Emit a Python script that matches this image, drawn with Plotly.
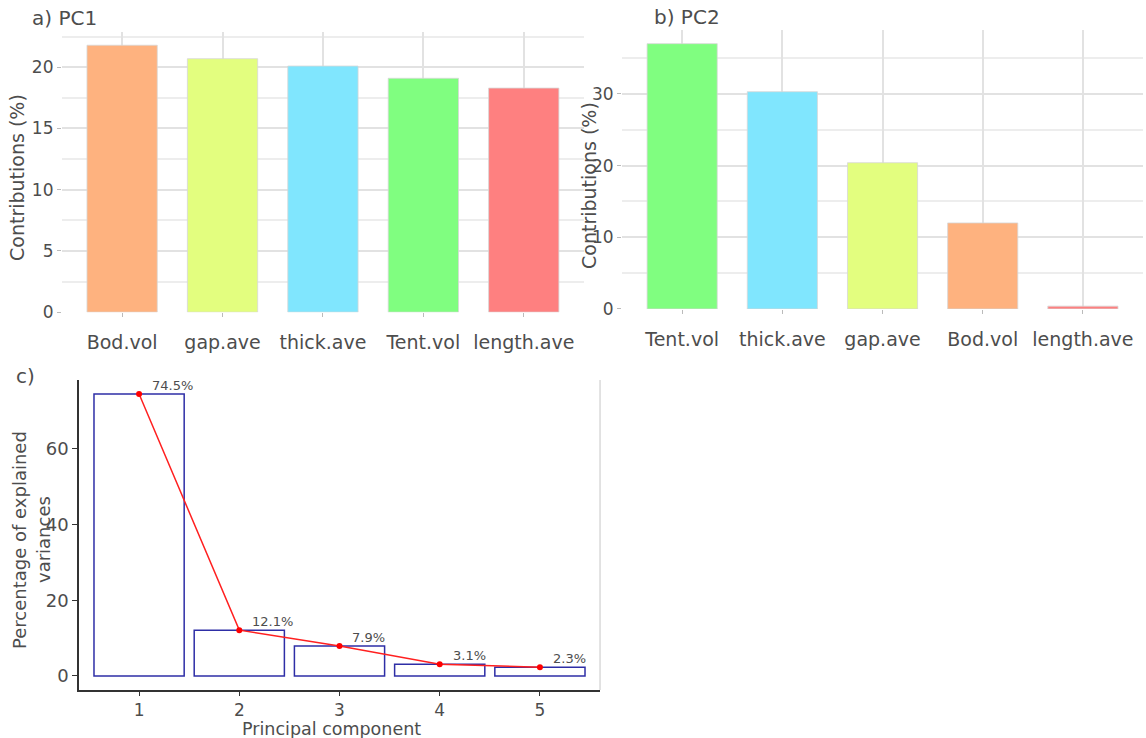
import plotly.graph_objects as go

# ---- data ----
pc1_vars = ["Bod.vol", "gap.ave", "thick.ave", "Tent.vol", "length.ave"]
pc1_vals = [21.8, 20.7, 20.1, 19.1, 18.3]

pc2_vars = ["Tent.vol", "thick.ave", "gap.ave", "Bod.vol", "length.ave"]
pc2_vals = [37.0, 30.3, 20.4, 12.0, 0.4]

var_colors = {
    "Bod.vol": "#FEB27F",
    "gap.ave": "#E3FE7F",
    "thick.ave": "#80E6FE",
    "Tent.vol": "#80FE80",
    "length.ave": "#FE8080",
}

pcs = [1, 2, 3, 4, 5]
explained = [74.5, 12.1, 7.9, 3.1, 2.3]
explained_labels = ["74.5%", "12.1%", "7.9%", "3.1%", "2.3%"]

W, H = 1146, 738
FONT = "DejaVu Sans"
TXT = "#4D4D4D"

fig = go.Figure()

# Panel a
fig.add_trace(go.Bar(
    x=pc1_vars, y=pc1_vals, width=0.7,
    marker=dict(color=[var_colors[v] for v in pc1_vars],
                line=dict(color="rgba(215,215,215,0.8)", width=1)),
    xaxis="x", yaxis="y", showlegend=False, hoverinfo="x+y"))

# Panel b
fig.add_trace(go.Bar(
    x=pc2_vars, y=pc2_vals, width=0.7,
    marker=dict(color=[var_colors[v] for v in pc2_vars],
                line=dict(color="rgba(215,215,215,0.8)", width=1)),
    xaxis="x2", yaxis="y2", showlegend=False, hoverinfo="x+y"))

# Panel c
fig.add_trace(go.Bar(
    x=pcs, y=explained, width=0.9,
    marker=dict(color="rgba(255,255,255,0)", line=dict(color="#2E2EA6", width=1.5)),
    xaxis="x3", yaxis="y3", showlegend=False, hoverinfo="x+y"))
fig.add_trace(go.Scatter(
    x=pcs, y=explained, mode="lines+markers",
    line=dict(color="#FF2020", width=1.5),
    marker=dict(color="#FF0000", size=6),
    xaxis="x3", yaxis="y3", showlegend=False, hoverinfo="x+y"))

grid_axis = dict(
    showgrid=True, gridcolor="#E2E2E2", gridwidth=1.5,
    ticks="outside", ticklen=4, tickcolor="#BBBBBB", tickwidth=1,
    zeroline=False, showline=False, automargin=False,
)
xfont = dict(family=FONT, size=19, color=TXT)
yfont = dict(family=FONT, size=17, color=TXT)

def ann(text, x, y, size, angle=0, xanchor="center"):
    return dict(text=text, x=x / W, y=1 - y / H, xref="paper", yref="paper",
                xanchor=xanchor, yanchor="middle", showarrow=False, textangle=angle,
                font=dict(family=FONT, size=size, color=TXT))

annotations = [
    ann("a) PC1", 30, 18, 20, xanchor="left"),
    ann("b) PC2", 652, 17, 20, xanchor="left"),
    ann("c)", 14, 376, 20, xanchor="left"),
    ann("Contributions (%)", 17, 178, 19, angle=-90),
    ann("Contributions (%)", 589, 186, 19, angle=-90),
    ann("Percentage of explained", 19, 540, 18, angle=-90),
    ann("variances", 43, 540, 18, angle=-90),
    ann("Principal component", 331, 729, 17.5),
]
for p, v, lab in zip(pcs, explained, explained_labels):
    annotations.append(dict(
        text=lab, x=p, y=v, xref="x3", yref="y3", xanchor="left", yanchor="middle",
        xshift=11, yshift=9, showarrow=False,
        font=dict(family=FONT, size=13, color=TXT)))

fig.update_layout(
    width=W, height=H,
    margin=dict(l=0, r=0, t=0, b=0),
    paper_bgcolor="white", plot_bgcolor="white",
    font=dict(family=FONT, color=TXT),
    xaxis=dict(domain=[0.054, 0.5096], range=[-0.6, 4.6], anchor="y",
               type="category", tickfont=xfont, ticklabelstandoff=9, **grid_axis),
    yaxis=dict(domain=[0.577, 0.957], range=[0, 22.9], anchor="x",
               tickvals=[0, 5, 10, 15, 20], tickfont=yfont,
               minor=dict(tickvals=[2.5, 7.5, 12.5, 17.5, 22.5], showgrid=True,
                          gridcolor="#EDEDED", gridwidth=1.5, ticks=""),
               **grid_axis),
    xaxis2=dict(domain=[0.5428, 0.9974], range=[-0.6, 4.6], anchor="y2",
                type="category", tickfont=xfont, ticklabelstandoff=9, **grid_axis),
    yaxis2=dict(domain=[0.5813, 0.9593], range=[0, 38.9], anchor="x2",
                tickvals=[0, 10, 20, 30], tickfont=yfont,
                minor=dict(tickvals=[5, 15, 25, 35], showgrid=True,
                           gridcolor="#EDEDED", gridwidth=1.5, ticks=""),
                **grid_axis),
    xaxis3=dict(domain=[0.0689, 0.5236], range=[0.4, 5.6], anchor="y3",
                tickvals=pcs, ticktext=[str(p) for p in pcs], automargin=False,
                showgrid=False, zeroline=False, showline=True, linecolor="#333333", linewidth=1.5,
                ticks="outside", ticklen=4, tickcolor="#333333",
                tickfont=dict(family=FONT, size=17, color=TXT)),
    yaxis3=dict(domain=[0.065, 0.485], range=[-3.725, 78.2], anchor="x3",
                tickvals=[0, 20, 40, 60], automargin=False,
                showgrid=False, zeroline=False, showline=True, linecolor="#333333", linewidth=1.5,
                ticks="outside", ticklen=5, tickcolor="#333333",
                tickfont=dict(family=FONT, size=18, color=TXT)),
    annotations=annotations,
    shapes=[
        dict(type="line", xref="paper", yref="paper",
             x0=0.5236, x1=0.5236, y0=0.065, y1=0.485,
             line=dict(color="#D9D9D9", width=1.5)),
    ],
)

fig.write_html("out.html")
